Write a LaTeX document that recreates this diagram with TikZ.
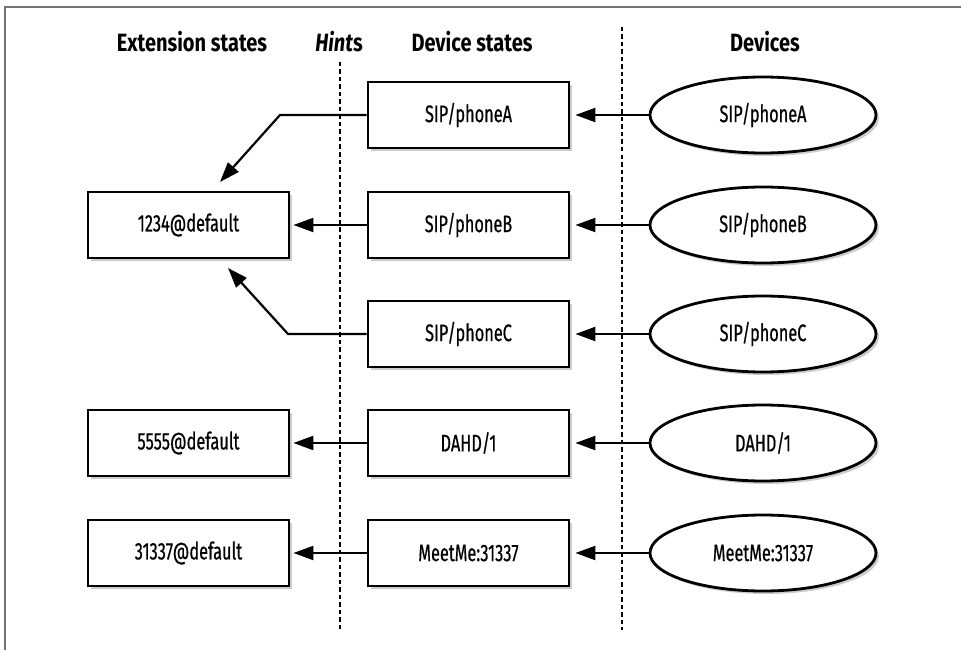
\documentclass[tikz,border=0pt]{standalone}
\usepackage{fontspec}
\setmainfont{Fira Sans}[FakeStretch=0.68,FakeBold=0.5]
\newfontfamily\hdrfont{Fira Sans}[FakeStretch=0.8]
\usetikzlibrary{shapes.geometric,arrows.meta,shadows}
\begin{document}
\begin{tikzpicture}[x=1pt,y=-1pt,
  shd/.style={drop shadow={opacity=0.4,shadow xshift=3pt,shadow yshift=-3pt}},
  stbox/.style={draw,line width=2.8pt,fill=white,shd,minimum width=201pt,minimum height=66pt,inner sep=0pt,font=\fontsize{24}{28}\selectfont},
  dev/.style={ellipse,draw,line width=2.8pt,fill=white,shd,minimum width=226pt,minimum height=76pt,inner sep=0pt,font=\fontsize{24}{28}\selectfont},
  hdr/.style={font=\hdrfont\fontsize{25}{29}\selectfont\bfseries},
  conn/.style={line width=2.2pt,-{Triangle[length=20pt,width=14pt]}},
  sep/.style={line width=2pt,dash pattern=on 4.5pt off 3pt},
  frame/.style={draw=black!55,line width=1.5pt}]
\useasboundingbox (0,0) rectangle (961,650);
\draw[frame] (5,650) -- (5,7) -- (961,7);
% headers
\node[hdr] (h1) at (192,42) {Extension states};
\node[hdr] (h2) at (339,42) {\textit{Hint}s};
\node[hdr] (h3) at (472,42) {Device states};
\node[hdr] (h4) at (765,42) {Devices};
% separators
\coordinate (s1t) at (340,62); \coordinate (s1b) at (340,630);
\coordinate (s2t) at (622,27); \coordinate (s2b) at (622,630);
\draw[sep] (s1t) -- (s1b);
\draw[sep] (s2t) -- (s2b);
% extension states
\node[stbox] (e1) at (188.5,225) {1234@default};
\node[stbox] (e2) at (188.5,443) {5555@default};
\node[stbox] (e3) at (188.5,553) {31337@default};
% device states
\node[stbox] (d1) at (468.5,115) {SIP/phoneA};
\node[stbox] (d2) at (468.5,225) {SIP/phoneB};
\node[stbox] (d3) at (468.5,334) {SIP/phoneC};
\node[stbox] (d4) at (468.5,443) {DAHD/1};
\node[stbox] (d5) at (468.5,553) {MeetMe:31337};
% devices
\node[dev] (v1) at (763,115) {SIP/phoneA};
\node[dev] (v2) at (763,225) {SIP/phoneB};
\node[dev] (v3) at (763,334) {SIP/phoneC};
\node[dev] (v4) at (763,443) {DAHD/1};
\node[dev] (v5) at (763,553) {MeetMe:31337};
% connectors devices -> device states
\foreach \i in {1,...,5}{\draw[conn,shorten >=5pt] (v\i.west) -- (d\i.east);}
% device states -> extension states
\draw[conn,shorten >=3pt] (d2.west) -- (e1.east);
\draw[conn,shorten >=3pt] (d4.west) -- (e2.east);
\draw[conn,shorten >=3pt] (d5.west) -- (e3.east);
\coordinate (bA) at (280,115); \coordinate (tA) at (220,182);
\coordinate (bC) at (288,334); \coordinate (tC) at (228,268);
\draw[conn] (d1.west) -- (bA) -- (tA);
\draw[conn] (d3.west) -- (bC) -- (tC);
\end{tikzpicture}
\end{document}
